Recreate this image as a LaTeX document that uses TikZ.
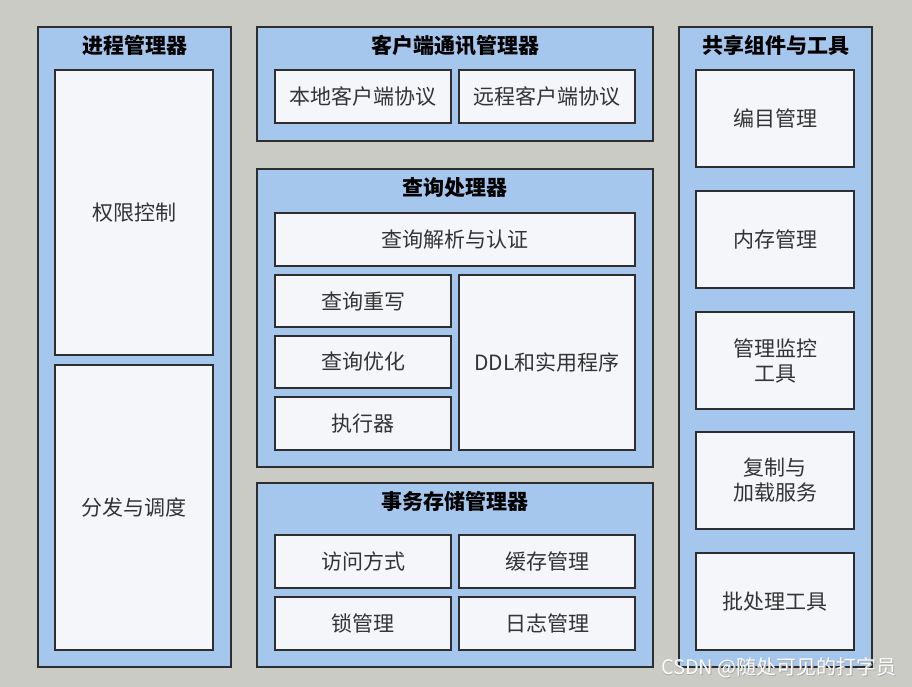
\documentclass[tikz,border=0pt]{standalone}
\usepackage{fontspec}
\setmainfont{Noto Sans CJK SC}
\newfontfamily\cjk{Noto Sans CJK SC}
\definecolor{bggray}{HTML}{CBCBC6}
\definecolor{outerfill}{HTML}{A5C7EE}
\definecolor{innerfill}{HTML}{F4F6FA}
\definecolor{edge}{HTML}{2E2E2E}
\definecolor{txt}{HTML}{333333}
\newcommand\mybx[7]{\node[#6, minimum width={(#4-#2)*1pt}, minimum height={(#5-#3)*1pt}] (#1) at ({(#2+#4)/2},{(#3+#5)/2}) {#7};}
\begin{document}
\begin{tikzpicture}[x=1pt,y=-1pt,
  outerbox/.style={draw=edge, line width=1.4pt, fill=outerfill, inner sep=0pt},
  innerbox/.style={draw=edge, line width=1.2pt, fill=innerfill, inner sep=0pt, align=center, text=txt, font=\fontsize{21}{25}\selectfont},
  titletext/.style={font=\fontsize{21}{25}\selectfont\bfseries, text=black, inner sep=0pt}]
\fill[bggray] (0,0) rectangle (912,687);
\useasboundingbox (0,0) rectangle (912,687);
% outer boxes
\mybx{pm}{38}{27}{231}{667}{outerbox}{}
\mybx{cm}{257}{27}{653}{141}{outerbox}{}
\mybx{qp}{257}{169}{653}{467}{outerbox}{}
\mybx{ts}{257}{483}{653}{667}{outerbox}{}
\mybx{sc}{679}{27}{872}{667}{outerbox}{}
% titles
\node[titletext] (pmt) at (134.5,45.5) {进程管理器};
\node[titletext] (cmt) at (455,45.5) {客户端通讯管理器};
\node[titletext] (qpt) at (455,187.5) {查询处理器};
\node[titletext] (tst) at (455,501.5) {事务存储管理器};
\node[titletext] (sct) at (775.5,45.5) {共享组件与工具};
% process manager
\mybx{qx}{55}{70}{213}{355}{innerbox}{权限控制}
\mybx{ff}{55}{365}{213}{650}{innerbox}{分发与调度}
% client comm
\mybx{bd}{275}{70}{451}{123}{innerbox}{本地客户端协议}
\mybx{yc}{459}{70}{635}{123}{innerbox}{远程客户端协议}
% query processor
\mybx{jx}{275}{213}{635}{266}{innerbox}{查询解析与认证}
\mybx{cx}{275}{275}{451}{327}{innerbox}{查询重写}
\mybx{yh}{275}{336}{451}{388}{innerbox}{查询优化}
\mybx{zx}{275}{397}{451}{450}{innerbox}{执行器}
\mybx{ddl}{459}{275}{635}{450}{innerbox}{DDL和实用程序}
% transactional storage
\mybx{fw}{275}{535}{451}{588}{innerbox}{访问方式}
\mybx{hc}{459}{535}{635}{588}{innerbox}{缓存管理}
\mybx{sg}{275}{597}{451}{650}{innerbox}{锁管理}
\mybx{rz}{459}{597}{635}{650}{innerbox}{日志管理}
% shared components
\mybx{bm}{696}{70}{854}{167}{innerbox}{编目管理}
\mybx{nc}{696}{191}{854}{288}{innerbox}{内存管理}
\mybx{jk}{696}{312}{854}{409}{innerbox}{管理监控\\工具}
\mybx{fz}{696}{432}{854}{529}{innerbox}{复制与\\加载服务}
\mybx{pc}{696}{553}{854}{650}{innerbox}{批处理工具}
% watermark
\node[anchor=east, inner sep=0pt, text=gray!65, font=\fontsize{20}{22}\selectfont] (wm0) at (897.6,668.6) {CSDN @随处可见的打字员};
\node[anchor=east, inner sep=0pt, text=white!96!gray, font=\fontsize{20}{22}\selectfont] (wm) at (897,668) {CSDN @随处可见的打字员};
\end{tikzpicture}
\end{document}
